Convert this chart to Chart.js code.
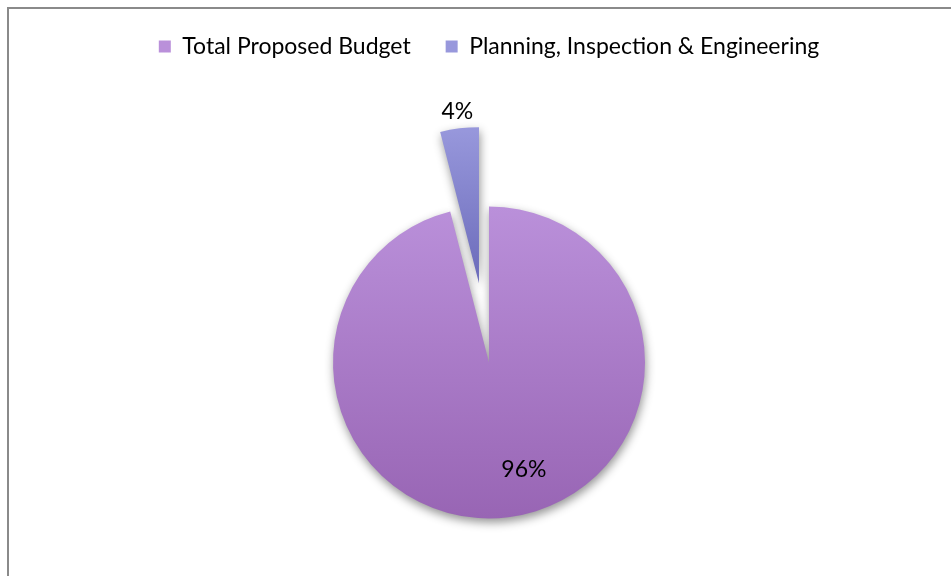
<!DOCTYPE html>
<html>
<head>
<meta charset="utf-8">
<title>Budget share</title>
<script src="https://cdn.jsdelivr.net/npm/chart.js@4.4.1/dist/chart.umd.min.js"></script>
<style>
  html, body { margin: 0; padding: 0; background: #fff; overflow: hidden; }
  #wrap { position: relative; width: 951px; height: 576px; overflow: hidden; }
  #frame { position: absolute; left: 7px; top: 7px; width: 1000px; height: 700px; border: 2px solid #8a8a8a; box-sizing: border-box; }
  #budgetChart { position: absolute; left: 0; top: 0; }
</style>
</head>
<body>
<div id="wrap">
  <div id="frame"></div>
  <canvas id="budgetChart" width="951" height="657"></canvas>
</div>
<script>
// share of the budget, in percent
const categories = ['Total Proposed Budget', 'Planning, Inspection & Engineering'];
const shares = [96, 4];

const FONT = 'Lato';
const PIE_RADIUS = 156;
const PULL_OUT = [0, 80];           // the small slice is pulled away from the pie
const LABEL_DIST = [0.72, 1.11];    // label distance, as a share of the radius
const LABEL_TURN = [-0.19, 0];      // label angle nudge, radians
const topColors = ['#ba90da', '#9898dc'];
const bottomColors = ['#9865b4', '#6b6bba'];

// vertical gradient per slice, light at the top
function sliceFill(ctx) {
  const chart = ctx.chart;
  const area = chart.chartArea;
  const i = ctx.dataIndex;
  if (!area) return bottomColors[i];
  const cy = (area.top + area.bottom) / 2;
  const g = chart.ctx.createLinearGradient(0, cy - PIE_RADIUS, 0, i === 0 ? cy + PIE_RADIUS : cy);
  g.addColorStop(0, topColors[i]);
  g.addColorStop(1, bottomColors[i]);
  return g;
}

// draws each arc moved out along its middle angle, with a soft shadow
const pulledSlices = {
  id: 'pulledSlices',
  beforeDatasetDraw(chart, args) {
    const c = chart.ctx;
    args.meta.data.forEach((arc, i) => {
      const mid = (arc.startAngle + arc.endAngle) / 2;
      const pull = PULL_OUT[i] || 0;
      c.save();
      c.shadowColor = 'rgba(0,0,0,0.42)';
      c.shadowBlur = 10;
      c.shadowOffsetX = 1;
      c.shadowOffsetY = 4;
      c.translate(Math.cos(mid) * pull, Math.sin(mid) * pull);
      arc.draw(c);
      c.restore();
    });
    return false;
  }
};

// percentage labels
const sliceLabels = {
  id: 'sliceLabels',
  afterDatasetsDraw(chart) {
    const c = chart.ctx;
    const arcs = chart.getDatasetMeta(0).data;
    c.save();
    c.font = `23px ${FONT}`;
    c.fillStyle = '#000';
    c.textAlign = 'center';
    c.textBaseline = 'middle';
    arcs.forEach((arc, i) => {
      const p = arc.getProps(['x', 'y', 'startAngle', 'endAngle', 'outerRadius'], true);
      const mid = (p.startAngle + p.endAngle) / 2 + LABEL_TURN[i];
      const d = PULL_OUT[i] + p.outerRadius * LABEL_DIST[i];
      c.fillText(shares[i] + '%', p.x + Math.cos(mid) * d, p.y + Math.sin(mid) * d);
    });
    c.restore();
  }
};

new Chart(document.getElementById('budgetChart'), {
  type: 'pie',
  data: {
    labels: categories,
    datasets: [{
      data: shares,
      backgroundColor: sliceFill,
      borderWidth: 0,
      radius: PIE_RADIUS
    }]
  },
  options: {
    responsive: false,
    animation: false,
    events: [],
    layout: { padding: { left: 27, top: 0, right: 0, bottom: 0 } },
    plugins: {
      legend: {
        position: 'top',
        labels: { boxWidth: 12, boxHeight: 12, padding: 35, color: '#000', font: { family: FONT, size: 23 } }
      },
      tooltip: { enabled: false }
    }
  },
  plugins: [pulledSlices, sliceLabels]
});
</script>
</body>
</html>
